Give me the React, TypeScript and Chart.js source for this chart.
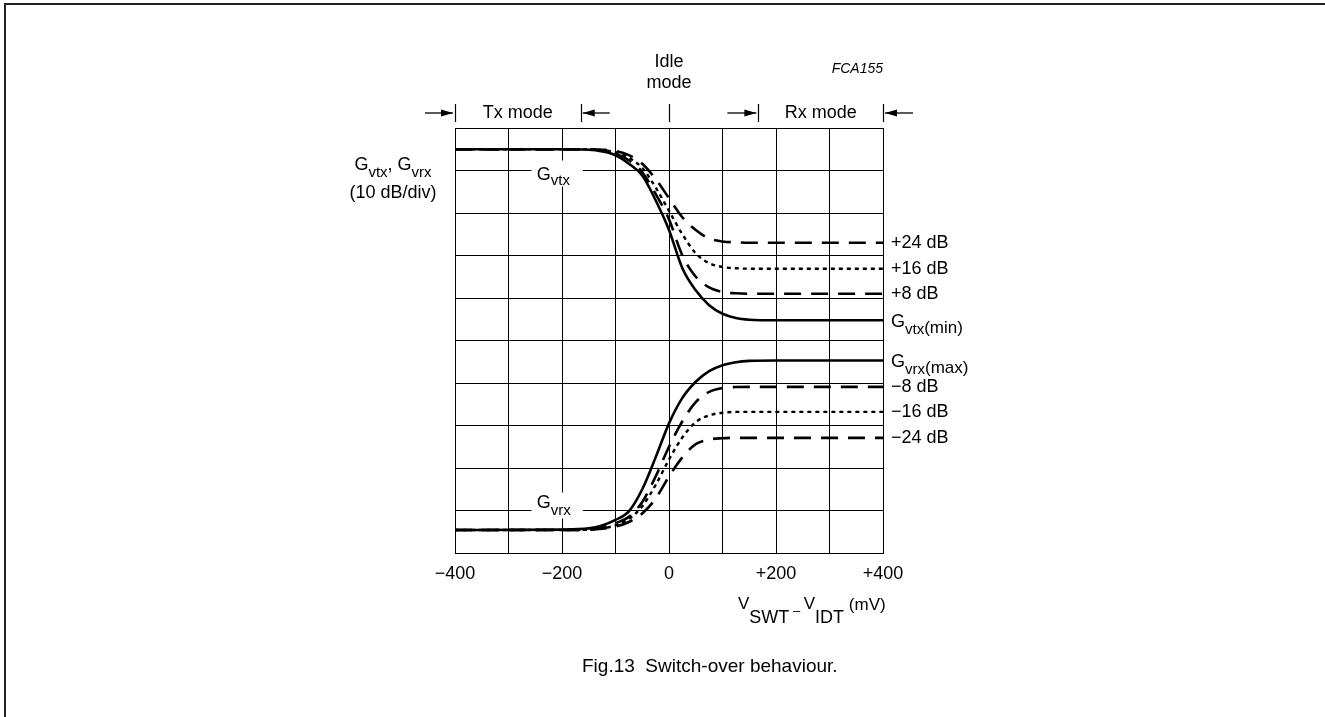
import React, { useEffect, useRef } from "react";
import { Chart, registerables } from "chart.js";

Chart.register(...registerables);

const FONT = '"Liberation Sans", Arial, Helvetica, sans-serif';

// x values (mV) shared by every curve
const voltageMv = [-400, -200, -150, -125, -100, -75, -50, -25, 0, 25, 50, 75, 100, 125, 150, 200, 400];

// G_vtx family (dB on a 10 dB/div arbitrary scale)
const gvtxMin = [95, 95, 94.9, 94.5, 93.6, 91.6, 88.8, 83, 76, 67, 61.8, 58.3, 56.3, 55.3, 54.9, 54.75, 54.75];
const gvtxPlus8 = [95, 95, 95, 94.7, 94, 92.4, 89.6, 84.5, 78.5, 70, 65, 62.5, 61.4, 61.1, 61, 61, 61];
const gvtxPlus16 = [95, 95, 95, 94.8, 94.3, 93, 90.6, 86, 80.5, 75, 70.5, 68.2, 67.3, 67, 66.9, 66.9, 66.9];
const gvtxPlus24 = [95, 95, 95, 94.9, 94.6, 93.6, 91.6, 88, 83.5, 79, 76, 74, 73.3, 73.1, 73, 73, 73];

// G_vrx family
const gvrxMax = [5.4, 5.5, 5.8, 6.5, 7.8, 9.8, 15, 22.5, 30.5, 36.5, 40.3, 42.8, 44.2, 44.9, 45.2, 45.3, 45.3];
const gvrxMinus8 = [5.4, 5.4, 5.6, 6, 7, 8.5, 12, 18, 25, 31, 35.5, 37.9, 38.8, 39.05, 39.1, 39.1, 39.1];
const gvrxMinus16 = [5.4, 5.4, 5.5, 5.8, 6.5, 8, 11, 16, 22, 27.2, 30.8, 32.4, 33, 33.2, 33.2, 33.2, 33.2];
const gvrxMinus24 = [5.4, 5.4, 5.5, 5.7, 6.2, 7.3, 9.3, 12.8, 18, 22.5, 25.6, 26.7, 27, 27.1, 27.1, 27.1, 27.1];

const xTickValues = [-400, -200, 0, 200, 400];
const xTickLabels = ["\u2212400", "\u2212200", "0", "+200", "+400"];

// mode boundaries (mV)
const modeBoundariesMv = [-400, -165, 0, 167, 400];

const dashedRightLabels = [
  { text: "+24 dB", series: gvtxPlus24 },
  { text: "+16 dB", series: gvtxPlus16 },
  { text: "+8 dB", series: gvtxPlus8 },
  { text: "\u22128 dB", series: gvrxMinus8 },
  { text: "\u221216 dB", series: gvrxMinus16 },
  { text: "\u221224 dB", series: gvrxMinus24 },
];

type Seg = { t: string; size: number; dy: number; italic?: boolean };

function segWidth(ctx: CanvasRenderingContext2D, segs: Seg[]) {
  let w = 0;
  for (const s of segs) {
    ctx.font = `${s.italic ? "italic " : ""}${s.size}px ${FONT}`;
    w += ctx.measureText(s.t).width;
  }
  return w;
}

function drawRich(ctx: CanvasRenderingContext2D, x: number, baseY: number, segs: Seg[]) {
  let cx = x;
  ctx.textAlign = "left";
  ctx.textBaseline = "alphabetic";
  for (const s of segs) {
    ctx.font = `${s.italic ? "italic " : ""}${s.size}px ${FONT}`;
    ctx.fillText(s.t, cx, baseY + s.dy);
    cx += ctx.measureText(s.t).width;
  }
  return cx;
}

function arrow(ctx: CanvasRenderingContext2D, xFrom: number, xTo: number, y: number) {
  ctx.beginPath();
  ctx.moveTo(xFrom, y);
  ctx.lineTo(xTo, y);
  ctx.lineWidth = 1.3;
  ctx.stroke();
  const dir = Math.sign(xTo - xFrom);
  ctx.beginPath();
  ctx.moveTo(xTo, y);
  ctx.lineTo(xTo - dir * 12, y - 3.5);
  ctx.lineTo(xTo - dir * 12, y + 3.5);
  ctx.closePath();
  ctx.fill();
}

const figurePlugin = {
  id: "figurePlugin",
  beforeDraw(chart: any) {
    const ctx = chart.ctx as CanvasRenderingContext2D;
    ctx.save();
    ctx.fillStyle = "#fff";
    ctx.fillRect(0, 0, chart.width, chart.height);
    ctx.strokeStyle = "#222";
    ctx.lineWidth = 2;
    ctx.strokeRect(5, 4, 1500, 900);
    ctx.restore();
  },
  beforeDatasetsDraw(chart: any) {
    const ctx = chart.ctx as CanvasRenderingContext2D;
    const xs = chart.scales.x;
    const ys = chart.scales.y;
    ctx.save();
    ctx.fillStyle = "#fff";
    const x0 = xs.getPixelForValue(-257);
    const x1 = xs.getPixelForValue(-161);
    const yv = ys.getPixelForValue(90);
    ctx.fillRect(x0, yv - 10, x1 - x0, 26);
    const yr = ys.getPixelForValue(10);
    ctx.fillRect(x0, yr - 18, x1 - x0, 26);
    ctx.restore();
  },
  afterDraw(chart: any) {
    const ctx = chart.ctx as CanvasRenderingContext2D;
    const xs = chart.scales.x;
    const ys = chart.scales.y;
    const area = chart.chartArea;
    ctx.save();
    ctx.fillStyle = "#000";
    ctx.strokeStyle = "#000";

    // interior curve labels
    const lx = xs.getPixelForValue(-247);
    drawRich(ctx, lx, ys.getPixelForValue(90) + 9, [
      { t: "G", size: 18, dy: 0 },
      { t: "vtx", size: 15, dy: 5 },
    ]);
    drawRich(ctx, lx, ys.getPixelForValue(10) - 3, [
      { t: "G", size: 18, dy: 0 },
      { t: "vrx", size: 15, dy: 7 },
    ]);

    // left axis label
    const leftSegs: Seg[] = [
      { t: "G", size: 18, dy: 0 },
      { t: "vtx", size: 15, dy: 7 },
      { t: ", G", size: 18, dy: 0 },
      { t: "vrx", size: 15, dy: 7 },
    ];
    const lw = segWidth(ctx, leftSegs);
    drawRich(ctx, 393 - lw / 2, 170, leftSegs);
    ctx.font = `18px ${FONT}`;
    ctx.textAlign = "center";
    ctx.textBaseline = "alphabetic";
    ctx.fillText("(10 dB/div)", 393, 198);

    // right labels
    const rx = area.right + 8;
    ctx.font = `18px ${FONT}`;
    ctx.textAlign = "left";
    ctx.textBaseline = "middle";
    for (const l of dashedRightLabels) {
      ctx.font = `18px ${FONT}`;
      ctx.textAlign = "left";
      ctx.textBaseline = "middle";
      ctx.fillText(l.text, rx, ys.getPixelForValue(l.series[l.series.length - 1]));
    }
    const yMin = ys.getPixelForValue(gvtxMin[gvtxMin.length - 1]);
    drawRich(ctx, rx, yMin + 7, [
      { t: "G", size: 18, dy: 0 },
      { t: "vtx", size: 15, dy: 7 },
      { t: "(min)", size: 17, dy: 6 },
    ]);
    const yMax = ys.getPixelForValue(gvrxMax[gvrxMax.length - 1]);
    drawRich(ctx, rx, yMax + 7, [
      { t: "G", size: 18, dy: 0 },
      { t: "vrx", size: 15, dy: 7 },
      { t: "(max)", size: 17, dy: 6 },
    ]);

    // x-axis title
    drawRich(ctx, 738, 609, [
      { t: "V", size: 17, dy: 0 },
      { t: "SWT", size: 18, dy: 14 },
      { t: " \u2013 ", size: 13, dy: 6 },
      { t: "V", size: 17, dy: 0 },
      { t: "IDT", size: 18, dy: 14 },
      { t: " (mV)", size: 17, dy: 1 },
    ]);

    // top mode annotations
    const bx = modeBoundariesMv.map((v) => xs.getPixelForValue(v));
    const lineTop = 104;
    const lineBot = 122;
    const ay = 113;
    ctx.lineWidth = 1.2;
    for (const b of bx) {
      const px = Math.round(b) + 0.5;
      ctx.beginPath();
      ctx.moveTo(px, lineTop);
      ctx.lineTo(px, lineBot);
      ctx.stroke();
    }
    arrow(ctx, bx[0] - 30, bx[0] - 2, ay);
    arrow(ctx, bx[1] + 29, bx[1] + 2, ay);
    arrow(ctx, bx[3] - 31, bx[3] - 2, ay);
    arrow(ctx, bx[4] + 30, bx[4] + 2, ay);

    ctx.font = `18px ${FONT}`;
    ctx.textAlign = "center";
    ctx.textBaseline = "middle";
    ctx.fillText("Tx mode", (bx[0] + bx[1]) / 2, ay);
    ctx.fillText("Rx mode", (bx[3] + bx[4]) / 2, ay);
    ctx.fillText("Idle", bx[2], 62);
    ctx.fillText("mode", bx[2], 83);

    ctx.font = `italic 14px ${FONT}`;
    ctx.textAlign = "right";
    ctx.fillText("FCA155", area.right, 69);

    // caption
    ctx.font = `19px ${FONT}`;
    ctx.textAlign = "left";
    ctx.textBaseline = "middle";
    ctx.fillText("Fig.13  Switch-over behaviour.", 582, 667);

    ctx.restore();
  },
};

function series(label: string, ys: number[], dash: number[], width: number) {
  return {
    label,
    data: voltageMv.map((x, i) => ({ x, y: ys[i] })),
    borderColor: "#000",
    backgroundColor: "#000",
    borderWidth: width,
    borderDash: dash,
    pointRadius: 0,
    showLine: true,
    fill: false,
    cubicInterpolationMode: "monotone" as const,
    borderCapStyle: "butt" as const,
  };
}

export default function App() {
  const ref = useRef<HTMLCanvasElement>(null);

  useEffect(() => {
    if (!ref.current) return;
    const chart = new Chart(ref.current, {
      type: "scatter",
      data: {
        datasets: [
          series("+24 dB", gvtxPlus24, [17, 10], 2.6),
          series("+16 dB", gvtxPlus16, [4, 4], 2.4),
          series("+8 dB", gvtxPlus8, [17, 10], 2.6),
          series("Gvtx(min)", gvtxMin, [], 2.6),
          series("-24 dB", gvrxMinus24, [17, 10], 2.6),
          series("-16 dB", gvrxMinus16, [4, 4], 2.4),
          series("-8 dB", gvrxMinus8, [17, 10], 2.6),
          series("Gvrx(max)", gvrxMax, [], 2.6),
        ],
      },
      options: {
        animation: false,
        responsive: false,
        events: [],
        layout: { padding: { top: 128, right: 442, left: 0, bottom: 0 } },
        plugins: {
          legend: { display: false },
          tooltip: { enabled: false },
          title: { display: false },
        },
        scales: {
          x: {
            type: "linear",
            min: -400,
            max: 400,
            afterFit: (s: any) => {
              s.height = 164;
            },
            afterBuildTicks: (s: any) => {
              s.ticks = [-400, -300, -200, -100, 0, 100, 200, 300, 400].map((v) => ({ value: v }));
            },
            grid: { color: "#000", lineWidth: 1, drawTicks: false },
            border: { color: "#000", width: 1 },
            ticks: {
              autoSkip: false,
              maxRotation: 0,
              padding: 10,
              color: "#000",
              font: { family: FONT, size: 18 },
              callback: (v: any) => {
                const i = xTickValues.indexOf(Number(v));
                return i >= 0 ? xTickLabels[i] : "";
              },
            },
          },
          y: {
            type: "linear",
            min: 0,
            max: 100,
            afterFit: (s: any) => {
              s.width = 455;
            },
            grid: { color: "#000", lineWidth: 1, drawTicks: false },
            border: { color: "#000", width: 1 },
            ticks: { display: false, stepSize: 10 },
          },
        },
      },
      plugins: [figurePlugin],
    } as any);
    return () => chart.destroy();
  }, []);

  return (
    <div style={{ position: "fixed", left: 0, top: 0, width: 1325, height: 717, background: "#fff", overflow: "hidden" }}>
      <canvas ref={ref} width={1325} height={717} style={{ width: 1325, height: 717, display: "block" }} />
    </div>
  );
}
